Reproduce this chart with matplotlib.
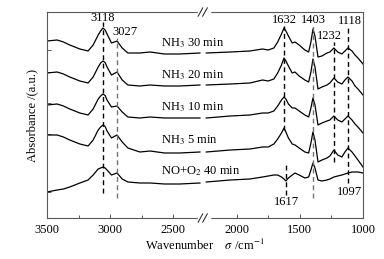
import numpy as np
import matplotlib
matplotlib.use('Agg')
import matplotlib.pyplot as plt

plt.rcParams['font.family'] = ['Liberation Serif', 'DejaVu Serif']
plt.rcParams['mathtext.fontset'] = 'stix'

nan = np.nan

# wavenumber grid (cm-1); the nan entry marks the axis break
wn = [3500, 3420, 3370, 3320, 3240, 3175, 3135, 3095, 3076, 3057, 3040, 3025,
      2990, 2946, 2905, 2860, 2765, 2685, 2570, 2450, 2290, 2265, 2240, 2050,
      1895, 1795, 1750, 1705, 1675, 1645, 1625, 1610, 1590, 1560, 1538, 1505,
      1460, 1430, 1412, 1396, 1380, 1356, 1325, 1285, 1262, 1230, 1200, 1167,
      1143, 1119, 1087, 1063, 1040, 1000]

# stacked spectra (absorbance, a.u., already offset)
nh3_30 = [1.77, 1.78, 1.76, 1.73, 1.69, 1.67, 1.73, 1.83, 1.87, 1.90, 1.88, 1.84,
          1.75, 1.77, 1.70, 1.65, 1.65, 1.66, 1.64, 1.64, 1.65, nan, 1.65, 1.66,
          1.67, 1.69, 1.68, 1.70, 1.76, 1.84, 1.90, 1.87, 1.82, 1.75, 1.76, 1.73,
          1.68, 1.66, 1.76, 1.89, 1.82, 1.61, 1.62, 1.65, 1.66, 1.70, 1.66, 1.64,
          1.67, 1.70, 1.67, 1.63, 1.60, 1.54]
nh3_20 = [1.45, 1.46, 1.44, 1.41, 1.37, 1.35, 1.41, 1.51, 1.55, 1.57, 1.555, 1.51,
          1.43, 1.46, 1.38, 1.33, 1.32, 1.33, 1.32, 1.32, 1.33, nan, 1.33, 1.34,
          1.35, 1.38, 1.37, 1.39, 1.45, 1.53, 1.60, 1.57, 1.52, 1.45, 1.46, 1.42,
          1.38, 1.36, 1.46, 1.59, 1.51, 1.29, 1.31, 1.33, 1.35, 1.40, 1.36, 1.34,
          1.38, 1.41, 1.37, 1.32, 1.29, 1.23]
nh3_10 = [1.13, 1.14, 1.12, 1.09, 1.05, 1.03, 1.09, 1.19, 1.22, 1.24, 1.225, 1.18,
          1.11, 1.12, 1.06, 1.01, 1.00, 1.01, 1.00, 1.00, 1.00, nan, 1.00, 1.02,
          1.03, 1.05, 1.05, 1.07, 1.12, 1.18, 1.21, 1.19, 1.14, 1.10, 1.10, 1.07,
          1.03, 1.01, 1.10, 1.20, 1.13, 0.93, 0.95, 0.97, 0.98, 1.02, 0.98, 0.96,
          0.99, 1.02, 0.98, 0.94, 0.91, 0.85]
nh3_5 = [0.83, 0.83, 0.81, 0.78, 0.74, 0.72, 0.78, 0.88, 0.91, 0.93, 0.915, 0.87,
         0.80, 0.83, 0.76, 0.70, 0.66, 0.67, 0.65, 0.65, 0.66, nan, 0.66, 0.68,
         0.69, 0.71, 0.71, 0.74, 0.79, 0.85, 0.90, 0.86, 0.80, 0.74, 0.73, 0.70,
         0.66, 0.65, 0.75, 0.86, 0.78, 0.56, 0.58, 0.60, 0.62, 0.68, 0.63, 0.61,
         0.66, 0.70, 0.66, 0.62, 0.58, 0.51]
no_o2 = [0.26, 0.28, 0.29, 0.31, 0.35, 0.38, 0.43, 0.49, 0.50, 0.51, 0.50, 0.48,
         0.43, 0.45, 0.39, 0.36, 0.35, 0.35, 0.34, 0.34, 0.35, nan, 0.36, 0.38,
         0.39, 0.41, 0.42, 0.43, 0.43, 0.41, 0.39, 0.37, 0.40, 0.43, 0.45, 0.43,
         0.40, 0.41, 0.48, 0.55, 0.50, 0.38, 0.37, 0.38, 0.39, 0.41, 0.42, 0.43,
         0.44, 0.45, 0.46, 0.46, 0.46, 0.45]

spectra = [nh3_30, nh3_20, nh3_10, nh3_5, no_o2]
curve_labels = ['NH$_3$ 30 min', 'NH$_3$ 20 min', 'NH$_3$ 10 min',
                'NH$_3$ 5 min', 'NO+O$_2$ 40 min']
label_y = [1.75, 1.43, 1.11, 0.78, 0.47]

# marker lines: position, top, bottom, colour
peak_pos = [3057, 2946, 1625, 1609, 1396, 1230, 1119]
peak_top = [1.96, 1.80, 1.92, 0.53, 1.92, 1.76, 1.90]
peak_bot = [0.25, 0.20, 0.88, 0.23, 0.20, 0.56, 0.35]
peak_colors = ['k', '0.45', 'k', 'k', '0.45', 'k', 'k']
peak_text = ['3118', '3027', '1632', '1617', '1403', '1232', '1118', '1097']
text_x = [3057, 2883, 1625, 1609, 1396, 1262, 1103, 1103]
text_y = [2.00, 1.86, 1.98, 0.16, 1.98, 1.82, 1.97, 0.26]

fig = plt.figure(figsize=(3.84, 2.59), dpi=100)
ax = fig.add_axes([47/384, 1 - 218/259, 316/384, 206/259])

for s in spectra:
    ax.plot(wn, s, color='k', lw=0.9)

for x, y1, y0, c in zip(peak_pos, peak_top, peak_bot, peak_colors):
    ax.plot([x, x], [y0, y1], color=c, lw=1.0, ls=(0, (3.5, 2.5)))

for t, x, y in zip(peak_text, text_x, text_y):
    ax.text(x, y, t, ha='center', va='center', fontsize=9)

for t, y in zip(curve_labels, label_y):
    ax.text(2598, y, t, ha='left', va='center', fontsize=9)

ax.set_xlim(3500, 1000)
ax.set_ylim(0, 2.06)
ax.set_xticks([3500, 3000, 2500, 2000, 1500, 1000])
ax.set_xticks([3250, 2750, 1750, 1250], minor=True)
ax.set_yticks([1.68, 1.46, 1.15, 0.84, 0.26])
ax.set_yticklabels([])
ax.tick_params(which='both', direction='in', color='0.35', width=0.7,
               labelsize=9, pad=4)
ax.tick_params(which='major', length=3)
ax.tick_params(which='minor', length=2.5)
for sp in ax.spines.values():
    sp.set_color('0.35')
    sp.set_linewidth(0.8)

ax.set_xlabel('Wavenumber    $\\sigma$ /cm$^{-1}$', fontsize=9, labelpad=2)
ax.set_ylabel('Absorbance /(a.u.)', fontsize=9, labelpad=2)

# axis break marks on top and bottom
tr = ax.get_xaxis_transform()
for yb in (0, 1):
    ax.plot([2300, 2222], [yb, yb], color='white', lw=2.5, transform=tr,
            clip_on=False, zorder=5)
    for xc in (2286, 2250):
        ax.plot([xc + 18, xc - 18], [yb - 0.02, yb + 0.02], color='0.2',
                lw=0.8, transform=tr, clip_on=False, zorder=6)

plt.savefig('out.png', dpi=100)
